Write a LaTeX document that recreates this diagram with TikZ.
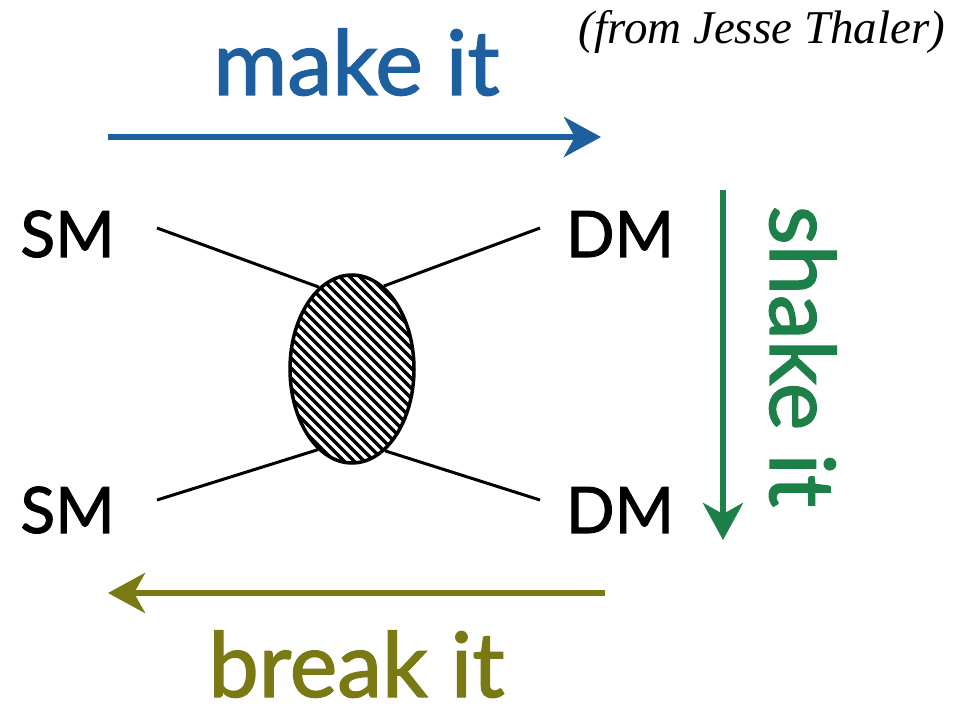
\documentclass[tikz,border=0pt]{standalone}
\usepackage{fontspec}
\setmainfont{Lato}
\newfontfamily\medfont{Lato}[FakeBold=1.6]
\newfontfamily\serifit{Liberation Serif}
\usetikzlibrary{arrows.meta,shapes.geometric,calc}
\definecolor{makeblue}{RGB}{30,95,160}
\definecolor{shakegreen}{RGB}{28,128,72}
\definecolor{breakolive}{RGB}{122,122,20}
\tikzset{
  lbl/.style={font=\medfont\fontsize{64}{64}\selectfont, inner sep=0pt, anchor=base, text depth=0pt},
  big/.style={font=\medfont\fontsize{90}{90}\selectfont, inner sep=0pt, anchor=base, text depth=0pt},
  flow/.style={line width=6pt, -{Stealth[length=37pt,width=40pt,inset=11pt]}},
  leg/.style={line width=3pt},
  blobstyle/.style={ellipse, draw, line width=3.5pt, minimum width=124pt, minimum height=188pt, inner sep=0pt,
    path picture={
      \foreach \k in {-30,...,30} {
        \draw[line width=3.3pt] ($(path picture bounding box.center)+(\k*10pt,0pt)+(-130pt,130pt)$) -- ++(260pt,-260pt);
      }
    }},
}
\begin{document}
\begin{tikzpicture}[x=1pt,y=-1pt]
\useasboundingbox (0,0) rectangle (954,708);
\node[anchor=base, font=\serifit\itshape\fontsize{47}{47}\selectfont, inner sep=0pt] (src) at (762,44) {(from Jesse Thaler)};
\node[big, text=makeblue] (make) at (356.5,95) {make it};
\node[big, text=breakolive] (break) at (356.5,697) {break it};
\node[big, text=shakegreen, rotate=-90] (shake) at (770,356.5) {shake it};
\node[lbl] (sm1) at (67.5,257) {SM};
\node[lbl] (dm1) at (620,257) {DM};
\node[lbl] (sm2) at (67.5,533) {SM};
\node[lbl] (dm2) at (620,533) {DM};
\coordinate (ma) at (108,137); \coordinate (mb) at (601,137);
\coordinate (sa) at (723,190); \coordinate (sb) at (723,540);
\coordinate (ba) at (605,593); \coordinate (bb) at (108,593);
\draw[flow, draw=makeblue, fill=makeblue] (ma) -- (mb);
\draw[flow, draw=shakegreen, fill=shakegreen] (sa) -- (sb);
\draw[flow, draw=breakolive, fill=breakolive] (ba) -- (bb);
\coordinate (l1) at (157,228); \coordinate (l2) at (540,228);
\coordinate (l3) at (157,500); \coordinate (l4) at (540,500);
\node[blobstyle] (blob) at (352,369) {};
\draw[leg] (l1) -- (blob.112.5);
\draw[leg] (l2) -- (blob.69.4);
\draw[leg] (l3) -- (blob.247);
\draw[leg] (l4) -- (blob.292);
\end{tikzpicture}
\end{document}
